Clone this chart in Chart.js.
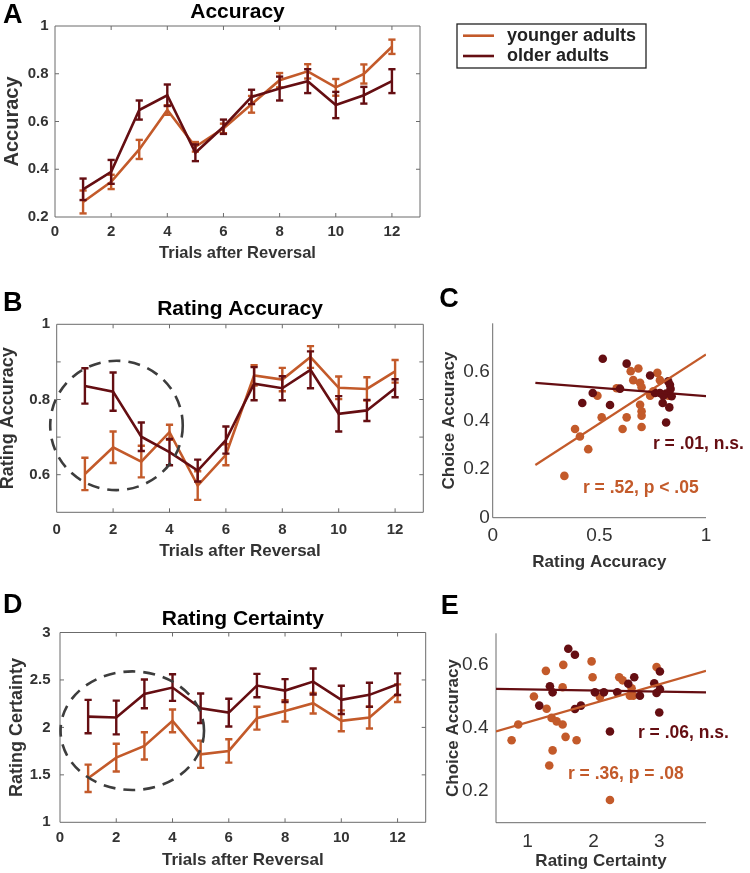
<!DOCTYPE html>
<html>
<head>
<meta charset="utf-8">
<script src="https://cdn.jsdelivr.net/npm/chart.js@4/dist/chart.umd.min.js"></script>
<style>
  html, body { margin: 0; padding: 0; background: #fff; }
  #fig { position: relative; width: 750px; height: 873px; overflow: hidden; }
  #fig canvas { position: absolute; }
</style>
</head>
<body>
<div id="fig">
  <canvas id="cA"></canvas>
  <canvas id="cB"></canvas>
  <canvas id="cC"></canvas>
  <canvas id="cD"></canvas>
  <canvas id="cE"></canvas>
</div>
<script>
// ---- data ----
const trials = [1, 2, 3, 4, 5, 6, 7, 8, 9, 10, 11, 12];
const groupLabels = ['younger adults', 'older adults'];

const youngAcc    = [0.263, 0.347, 0.483, 0.648, 0.494, 0.571, 0.672, 0.773, 0.810, 0.743, 0.799, 0.913];
const youngAccErr = [0.048, 0.030, 0.040, 0.020, 0.020, 0.020, 0.035, 0.030, 0.030, 0.035, 0.040, 0.030];
const oldAcc      = [0.316, 0.389, 0.648, 0.710, 0.469, 0.578, 0.703, 0.738, 0.769, 0.669, 0.710, 0.769];
const oldAccErr   = [0.045, 0.050, 0.040, 0.045, 0.035, 0.030, 0.030, 0.050, 0.050, 0.055, 0.035, 0.050];

const youngRateAcc    = [0.602, 0.673, 0.635, 0.713, 0.571, 0.653, 0.864, 0.853, 0.913, 0.831, 0.828, 0.875];
const youngRateAccErr = [0.043, 0.042, 0.042, 0.020, 0.038, 0.028, 0.027, 0.031, 0.029, 0.030, 0.031, 0.030];
const oldRateAcc      = [0.836, 0.821, 0.701, 0.660, 0.611, 0.692, 0.842, 0.830, 0.879, 0.762, 0.771, 0.830];
const oldRateAccErr   = [0.047, 0.051, 0.038, 0.035, 0.029, 0.036, 0.044, 0.032, 0.049, 0.047, 0.028, 0.024];

const youngCert    = [1.464, 1.682, 1.805, 2.069, 1.717, 1.752, 2.097, 2.174, 2.255, 2.069, 2.104, 2.360];
const youngCertErr = [0.144, 0.146, 0.144, 0.120, 0.144, 0.123, 0.120, 0.112, 0.109, 0.110, 0.116, 0.093];
const oldCert      = [2.114, 2.104, 2.353, 2.420, 2.202, 2.156, 2.441, 2.388, 2.483, 2.290, 2.343, 2.455];
const oldCertErr   = [0.176, 0.178, 0.151, 0.140, 0.155, 0.146, 0.123, 0.121, 0.137, 0.149, 0.127, 0.114];

// panel C: rating accuracy vs choice accuracy (one dot per participant)
const oldRateAccX  = [0.516, 0.628, 0.469, 0.420, 0.550, 0.597, 0.738, 0.813, 0.761, 0.797, 0.828, 0.823, 0.834, 0.813, 0.839, 0.800, 0.831, 0.784];
const oldChoiceC   = [0.654, 0.634, 0.513, 0.472, 0.464, 0.531, 0.585, 0.392, 0.513, 0.472, 0.454, 0.561, 0.530, 0.511, 0.500, 0.502, 0.547, 0.513];
const youngRateAccX = [0.336, 0.386, 0.409, 0.448, 0.511, 0.491, 0.581, 0.609, 0.628, 0.647, 0.659, 0.683, 0.691, 0.698, 0.691, 0.698, 0.698, 0.698, 0.738, 0.772, 0.784, 0.823, 0.753];
const youngChoiceC  = [0.172, 0.365, 0.334, 0.282, 0.413, 0.502, 0.533, 0.365, 0.413, 0.603, 0.566, 0.614, 0.555, 0.537, 0.465, 0.438, 0.420, 0.373, 0.502, 0.596, 0.566, 0.502, 0.520];
const fitCX     = [0.2, 1.0];
const fitCYoung = [0.217, 0.672];
const fitCOld   = [0.555, 0.500];

// panel E: rating certainty vs choice accuracy
const oldCertX   = [1.618, 1.719, 1.339, 1.380, 1.177, 1.719, 1.810, 2.023, 2.159, 2.251, 2.362, 2.529, 2.620, 2.706, 2.924, 2.959, 3.010, 3.010, 3.000];
const oldChoiceE = [0.651, 0.632, 0.532, 0.513, 0.471, 0.460, 0.471, 0.513, 0.513, 0.389, 0.513, 0.540, 0.561, 0.502, 0.542, 0.511, 0.579, 0.523, 0.449];
const youngCertX   = [0.757, 0.858, 1.096, 1.278, 1.289, 1.329, 1.380, 1.365, 1.441, 1.532, 1.542, 1.532, 1.577, 1.744, 1.972, 1.987, 2.099, 2.251, 2.392, 2.443, 2.554, 2.605, 2.959, 2.580];
const youngChoiceE = [0.361, 0.411, 0.500, 0.581, 0.461, 0.281, 0.329, 0.432, 0.421, 0.529, 0.600, 0.411, 0.372, 0.361, 0.611, 0.561, 0.498, 0.172, 0.561, 0.551, 0.502, 0.502, 0.593, 0.526];
const fitEX     = [0.52, 3.71];
const fitEYoung = [0.389, 0.581];
const fitEOld   = [0.524, 0.513];

// tick values and labels
const trialTicks   = [0, 2, 4, 6, 8, 10, 12];
const accTicks     = [0.2, 0.4, 0.6, 0.8, 1];
const rateAccTicks = [0.6, 0.7, 0.8, 0.9, 1];
const rateAccTickLabels = ['0.6', '', '0.8', '', '1'];
const certTicks    = [1, 1.5, 2, 2.5, 3];
const scatCXTicks  = [0, 0.5, 1];
const scatCYTicks  = [0, 0.2, 0.4, 0.6];
const scatEXTicks  = [1, 2, 3];
const scatEYTicks  = [0.2, 0.4, 0.6];

// ---- styling ----
const YOUNG = '#C35A2A';
const OLD = '#650E12';
const AXIS = '#6b6b6b';
const TXT = '#333';
const FONT = '"Liberation Sans", Arial, Helvetica, sans-serif';
Chart.defaults.font.family = FONT;
Chart.defaults.color = TXT;

const fmt = v => String(+v.toFixed(2));

function meanLine(label, ys, color) {
  return { label, data: trials.map((x, i) => ({ x, y: ys[i] })), borderColor: color,
    borderWidth: 2.6, pointRadius: 0, tension: 0 };
}
function errBars(ys, es, color) {
  const data = [];
  trials.forEach((x, i) => {
    data.push({ x, y: ys[i] - es[i] }, { x, y: ys[i] + es[i] }, { x: x + 0.5, y: null });
  });
  return { data, borderColor: color, borderWidth: 2.4, pointStyle: 'line', pointRadius: 3.6,
    pointBorderColor: color, pointBorderWidth: 2.4, pointBackgroundColor: color, tension: 0, spanGaps: false };
}
function dots(xs, ys, color) {
  return { data: xs.map((x, i) => ({ x, y: ys[i] })), showLine: false, pointRadius: 4.3,
    pointBorderWidth: 0, pointBackgroundColor: color, borderColor: color };
}
function fitLine(xs, ys, color) {
  return { data: xs.map((x, i) => ({ x, y: ys[i] })), borderColor: color, borderWidth: 2.2, pointRadius: 0 };
}

// panel layout: canvas [left, top, w, h], plot area [left, top, right, bottom] in page px
const panels = {
  cA: { canvas: [0, 0, 750, 285], area: [55, 26, 420, 217], box: true,
        letter: ['A', 3, 22.7], title: ['Accuracy', 17.5], legend: [457, 24, 646, 68] },
  cB: { canvas: [0, 285, 435, 300], area: [56.7, 324.3, 423.3, 512.3], box: true,
        letter: ['B', 3, 25.7], title: ['Rating Accuracy', 30], ellipse: [2.12, 0.731, 2.35, 0.172] },
  cC: { canvas: [435, 285, 315, 300], area: [492.7, 323.3, 706, 517.7], box: false,
        letter: ['C', 4.3, 21.7],
        notes: [['r = .01, n.s.', 0.751, 0.281, OLD], ['r = .52, p < .05', 0.423, 0.100, YOUNG]] },
  cD: { canvas: [0, 585, 435, 288], area: [60, 632.5, 425.7, 822.3], box: true,
        letter: ['D', 3, 28.3], title: ['Rating Certainty', 40], ellipse: [2.57, 1.965, 2.55, 0.625] },
  cE: { canvas: [435, 585, 315, 288], area: [496, 633.3, 706, 822.7], box: false,
        letter: ['E', 5.7, 29],
        notes: [['r = .06, n.s.', 2.676, 0.368, OLD], ['r = .36, p = .08', 1.612, 0.237, YOUNG]] }
};

const TICK = 4;
const panelPlugin = {
  id: 'panel',
  beforeDatasetsDraw(chart) {
    const p = panels[chart.canvas.id];
    const { ctx, chartArea: a, scales: { x, y } } = chart;
    ctx.save();
    ctx.strokeStyle = AXIS;
    ctx.lineWidth = 1;
    ctx.beginPath();
    if (p.box) {
      ctx.rect(a.left, a.top, a.right - a.left, a.bottom - a.top);
      x.ticks.forEach(t => {
        const px = x.getPixelForValue(t.value);
        if (px <= a.left + 1 || px >= a.right - 1) return;
        ctx.moveTo(px, a.bottom); ctx.lineTo(px, a.bottom - TICK);
        ctx.moveTo(px, a.top); ctx.lineTo(px, a.top + TICK);
      });
      y.ticks.forEach(t => {
        const py = y.getPixelForValue(t.value);
        if (py <= a.top + 1 || py >= a.bottom - 1) return;
        ctx.moveTo(a.left, py); ctx.lineTo(a.left + TICK, py);
        ctx.moveTo(a.right, py); ctx.lineTo(a.right - TICK, py);
      });
    } else {
      ctx.moveTo(a.left, a.top); ctx.lineTo(a.left, a.bottom); ctx.lineTo(a.right, a.bottom);
    }
    ctx.stroke();
    ctx.restore();
  },
  afterDatasetsDraw(chart) {
    const p = panels[chart.canvas.id];
    const { ctx, chartArea: a, scales: { x, y } } = chart;
    ctx.save();
    if (p.ellipse) {
      const [ex, ey, rx, ry] = p.ellipse;
      const cx = x.getPixelForValue(ex), cy = y.getPixelForValue(ey);
      const prx = x.getPixelForValue(ex + rx) - cx, pry = cy - y.getPixelForValue(ey + ry);
      ctx.setLineDash([12, 8]);
      ctx.lineWidth = 2.6;
      ctx.strokeStyle = '#3d3d3d';
      ctx.beginPath();
      ctx.ellipse(cx, cy, prx, pry, 0, 0, Math.PI * 2);
      ctx.stroke();
      ctx.setLineDash([]);
    }
    if (p.notes) {
      ctx.font = 'bold 17.5px ' + FONT;
      ctx.textAlign = 'left';
      ctx.textBaseline = 'alphabetic';
      p.notes.forEach(([t, vx, vy, c]) => {
        ctx.fillStyle = c;
        ctx.fillText(t, x.getPixelForValue(vx), y.getPixelForValue(vy));
      });
    }
    if (p.title) {
      ctx.font = 'bold 21px ' + FONT;
      ctx.fillStyle = '#000';
      ctx.textAlign = 'center';
      ctx.textBaseline = 'alphabetic';
      ctx.fillText(p.title[0], (a.left + a.right) / 2, p.title[1]);
    }
    if (p.letter) {
      ctx.font = 'bold 27px ' + FONT;
      ctx.fillStyle = '#000';
      ctx.textAlign = 'left';
      ctx.textBaseline = 'alphabetic';
      ctx.fillText(p.letter[0], p.letter[1], p.letter[2]);
    }
    if (p.legend) {
      const [l, t, r, b] = p.legend;
      ctx.strokeStyle = '#222';
      ctx.lineWidth = 1.3;
      ctx.strokeRect(l, t, r - l, b - t);
      const cols = [YOUNG, OLD];
      const rows = [t + 11.7, t + 32];
      ctx.font = 'bold 18px ' + FONT;
      ctx.textAlign = 'left';
      ctx.textBaseline = 'middle';
      groupLabels.forEach((lab, i) => {
        ctx.strokeStyle = cols[i];
        ctx.lineWidth = 2.6;
        ctx.beginPath();
        ctx.moveTo(l + 6, rows[i]); ctx.lineTo(l + 37, rows[i]);
        ctx.stroke();
        ctx.fillStyle = '#222';
        ctx.fillText(lab, l + 50, rows[i] + 0.5);
      });
    }
    ctx.restore();
  }
};

function axis(min, max, ticks, labels, o) {
  return {
    type: 'linear', min, max,
    grid: { display: false, drawTicks: false },
    border: { display: false },
    afterBuildTicks: s => { s.ticks = ticks.map(v => ({ value: v })); },
    ticks: {
      autoSkip: false, maxRotation: 0, padding: o.pad, color: TXT,
      font: { size: o.size, weight: o.weight, family: FONT },
      callback: (v, i) => labels ? labels[i] : fmt(v)
    },
    title: {
      display: true, text: o.title, color: TXT,
      font: { size: o.tsize, weight: 'bold', family: FONT, lineHeight: 1 },
      padding: o.tpad
    }
  };
}

function makeChart(id, datasets, xAx, yAx) {
  const p = panels[id];
  const [cl, ct, cw, ch] = p.canvas;
  const [L, T, R, B] = p.area;
  const cv = document.getElementById(id);
  cv.width = cw; cv.height = ch;
  cv.style.left = cl + 'px'; cv.style.top = ct + 'px';
  cv.style.width = cw + 'px'; cv.style.height = ch + 'px';
  xAx.position = 'bottom';
  xAx.afterFit = s => { s.height = ct + ch - B; };
  yAx.position = 'left';
  yAx.afterFit = s => { s.width = L - cl; };
  return new Chart(cv, {
    type: 'line',
    data: { datasets },
    options: {
      responsive: false, animation: false, devicePixelRatio: 1,
      layout: { padding: { left: 0, top: T - ct, right: cl + cw - R, bottom: 0 } },
      plugins: { legend: { display: false }, tooltip: { enabled: false }, title: { display: false } },
      elements: { line: { tension: 0 } },
      scales: { x: xAx, y: yAx }
    },
    plugins: [panelPlugin]
  });
}

const boldTicks = { size: 15, weight: 'bold' };

// A: accuracy
makeChart('cA', [
  meanLine(groupLabels[1], oldAcc, OLD), errBars(oldAcc, oldAccErr, OLD),
  meanLine(groupLabels[0], youngAcc, YOUNG), errBars(youngAcc, youngAccErr, YOUNG)
],
  axis(0, 13, trialTicks, null, { ...boldTicks, pad: 5.5, title: 'Trials after Reversal', tsize: 16.5, tpad: { top: 0, bottom: 23.7 } }),
  axis(0.2, 1, accTicks, null, { ...boldTicks, pad: 6.5, title: 'Accuracy', tsize: 20, tpad: { top: 2.7, bottom: 0 } })
);

// B: rating accuracy
makeChart('cB', [
  meanLine(groupLabels[1], oldRateAcc, OLD), errBars(oldRateAcc, oldRateAccErr, OLD),
  meanLine(groupLabels[0], youngRateAcc, YOUNG), errBars(youngRateAcc, youngRateAccErr, YOUNG)
],
  axis(0, 13, trialTicks, null, { ...boldTicks, pad: 9, title: 'Trials after Reversal', tsize: 17, tpad: { top: 0, bottom: 24.8 } }),
  axis(0.5, 1, rateAccTicks, rateAccTickLabels, { ...boldTicks, pad: 6.5, title: 'Rating Accuracy', tsize: 18, tpad: { top: -0.5, bottom: 0 } })
);

// C: rating accuracy vs choice accuracy
makeChart('cC', [
  fitLine(fitCX, fitCOld, OLD), fitLine(fitCX, fitCYoung, YOUNG),
  dots(oldRateAccX, oldChoiceC, OLD), dots(youngRateAccX, youngChoiceC, YOUNG)
],
  axis(0, 1, scatCXTicks, null, { size: 19, weight: 'normal', pad: 7, title: 'Rating Accuracy', tsize: 17, tpad: { top: 0, bottom: 13.8 } }),
  axis(0, 0.8, scatCYTicks, null, { size: 19, weight: 'normal', pad: 3, title: 'Choice Accuracy', tsize: 17, tpad: { top: 5.8, bottom: 0 } })
);

// D: rating certainty
makeChart('cD', [
  meanLine(groupLabels[1], oldCert, OLD), errBars(oldCert, oldCertErr, OLD),
  meanLine(groupLabels[0], youngCert, YOUNG), errBars(youngCert, youngCertErr, YOUNG)
],
  axis(0, 13, trialTicks, null, { ...boldTicks, pad: 7, title: 'Trials after Reversal', tsize: 17, tpad: { top: 0, bottom: 3.8 } }),
  axis(1, 3, certTicks, null, { ...boldTicks, pad: 9.5, title: 'Rating Certainty', tsize: 18, tpad: { top: 7.7, bottom: 0 } })
);

// E: rating certainty vs choice accuracy
makeChart('cE', [
  fitLine(fitEX, fitEOld, OLD), fitLine(fitEX, fitEYoung, YOUNG),
  dots(oldCertX, oldChoiceE, OLD), dots(youngCertX, youngChoiceE, YOUNG)
],
  axis(0.52, 3.71, scatEXTicks, null, { size: 19, weight: 'normal', pad: 8, title: 'Rating Certainty', tsize: 17, tpad: { top: 0, bottom: 2.8 } }),
  axis(0.1, 0.7, scatEYTicks, null, { size: 19, weight: 'normal', pad: 7.5, title: 'Choice Accuracy', tsize: 17, tpad: { top: 9.8, bottom: 0 } })
);
</script>
</body>
</html>
